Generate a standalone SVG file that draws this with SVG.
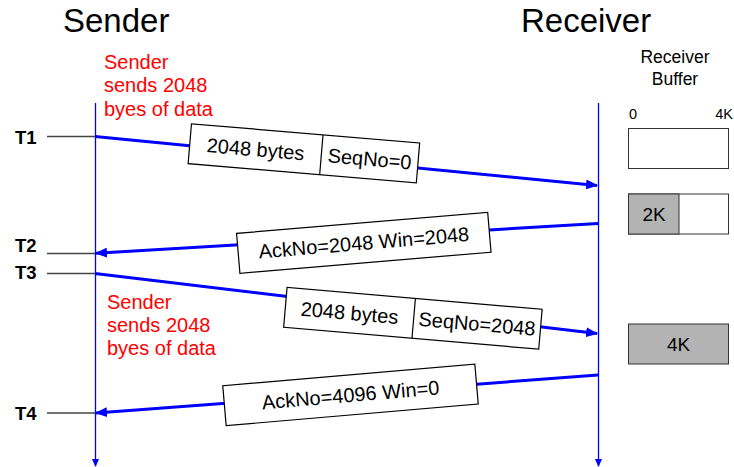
<svg xmlns="http://www.w3.org/2000/svg" width="734" height="467" viewBox="0 0 734 467">
<style>
text{font-family:"Liberation Sans",Arial,sans-serif;fill:#000}
.title{font-size:33px}
.red{font-size:20px;fill:#ff0000}
.t{font-size:18.5px;font-weight:bold}
.pkt{font-size:20px;text-anchor:middle}
.box{fill:#fff;stroke:#000;stroke-width:1.2}
.life{stroke:#0000ff;stroke-width:1.3;fill:none}
.msg{stroke:#0000ff;stroke-width:3;fill:none}
.tick{stroke:#444;stroke-width:1.5}
.buf{stroke:#333;stroke-width:1}
.bl{font-size:17.5px;text-anchor:middle}
.sm{font-size:14.5px}
</style>
<defs>
<marker id="ah" markerWidth="12" markerHeight="10" refX="11" refY="5" orient="auto" markerUnits="userSpaceOnUse">
<path d="M0,0 L12,5 L0,10 Z" fill="#0000ff"/>
</marker>
<marker id="lh" markerWidth="8" markerHeight="8" refX="7" refY="4" orient="auto" markerUnits="userSpaceOnUse">
<path d="M0,0.5 L8,4 L0,7.5 Z" fill="#0000ff"/>
</marker>
</defs>

<g id="titles">
<text class="title" x="63" y="32">Sender</text>
<text class="title" x="521" y="32">Receiver</text>
</g>

<g id="notes">
<text class="red" x="104" y="69">Sender</text>
<text class="red" x="104" y="92">sends 2048</text>
<text class="red" x="104" y="116">byes of data</text>
<text class="red" x="107" y="309">Sender</text>
<text class="red" x="107" y="332">sends 2048</text>
<text class="red" x="107" y="355">byes of data</text>
</g>

<g id="time-labels">
<text class="t" x="15" y="144">T1</text>
<text class="t" x="15" y="252">T2</text>
<text class="t" x="15" y="279">T3</text>
<text class="t" x="15" y="420">T4</text>
<line class="tick" x1="47" y1="136.5" x2="95" y2="136.5"/>
<line class="tick" x1="47" y1="253.5" x2="95" y2="253.5"/>
<line class="tick" x1="47" y1="273.5" x2="95" y2="273.5"/>
<line class="tick" x1="47" y1="413" x2="95" y2="413"/>
</g>

<g id="connectors">
<line class="life" x1="95.5" y1="103" x2="95.5" y2="466" marker-end="url(#lh)"/>
<line class="life" x1="598.5" y1="103" x2="598.5" y2="466" marker-end="url(#lh)"/>
<line class="msg" x1="95" y1="136.5" x2="597" y2="185.5" marker-end="url(#ah)"/>
<line class="msg" x1="598" y1="223.5" x2="96" y2="253.3" marker-end="url(#ah)"/>
<line class="msg" x1="95" y1="273.5" x2="597" y2="333.6" marker-end="url(#ah)"/>
<line class="msg" x1="598" y1="375" x2="96" y2="413" marker-end="url(#ah)"/>
</g>

<g id="pkt1" transform="translate(303.9,153.3) rotate(4.8)">
<rect class="box" x="-114.5" y="-20" width="229" height="40"/>
<line class="box" x1="17.5" y1="-20" x2="17.5" y2="20"/>
<text class="pkt" x="-48.5" y="7">2048 bytes</text>
<text class="pkt" x="66" y="7">SeqNo=0</text>
</g>

<g id="ack1" transform="translate(363.8,242.8) rotate(-4.8)">
<rect class="box" x="-126" y="-20" width="252" height="40"/>
<text class="pkt" x="0" y="7">AckNo=2048 Win=2048</text>
</g>

<g id="pkt2" transform="translate(412.9,318.3) rotate(4.9)">
<rect class="box" x="-128" y="-20" width="256" height="40"/>
<line class="box" x1="0.8" y1="-20" x2="0.8" y2="20"/>
<text class="pkt" x="-63.6" y="7">2048 bytes</text>
<text class="pkt" x="64.4" y="7">SeqNo=2048</text>
</g>

<g id="ack2" transform="translate(350.5,394.9) rotate(-4.9)">
<rect class="box" x="-126.5" y="-20" width="253" height="40"/>
<text class="pkt" x="0" y="7">AckNo=4096 Win=0</text>
</g>

<g id="buffer-label">
<text class="bl" x="675" y="63">Receiver</text>
<text class="bl" x="675" y="85">Buffer</text>
<text class="sm" x="629" y="119">0</text>
<text class="sm" x="733" y="119" text-anchor="end">4K</text>
</g>

<g id="buf1">
<rect class="buf" x="628.5" y="128.5" width="100" height="40" fill="#fff"/>
</g>
<g id="buf2">
<rect class="buf" x="628.5" y="194" width="100" height="40" fill="#fff"/>
<rect class="buf" x="628.5" y="194" width="50.5" height="40" fill="#b3b3b3"/>
<text class="bl" x="654" y="221" style="font-size:19px">2K</text>
</g>
<g id="buf3">
<rect class="buf" x="628.5" y="324" width="100" height="40" fill="#b3b3b3"/>
<text class="bl" x="678.5" y="351" style="font-size:19px">4K</text>
</g>
</svg>
